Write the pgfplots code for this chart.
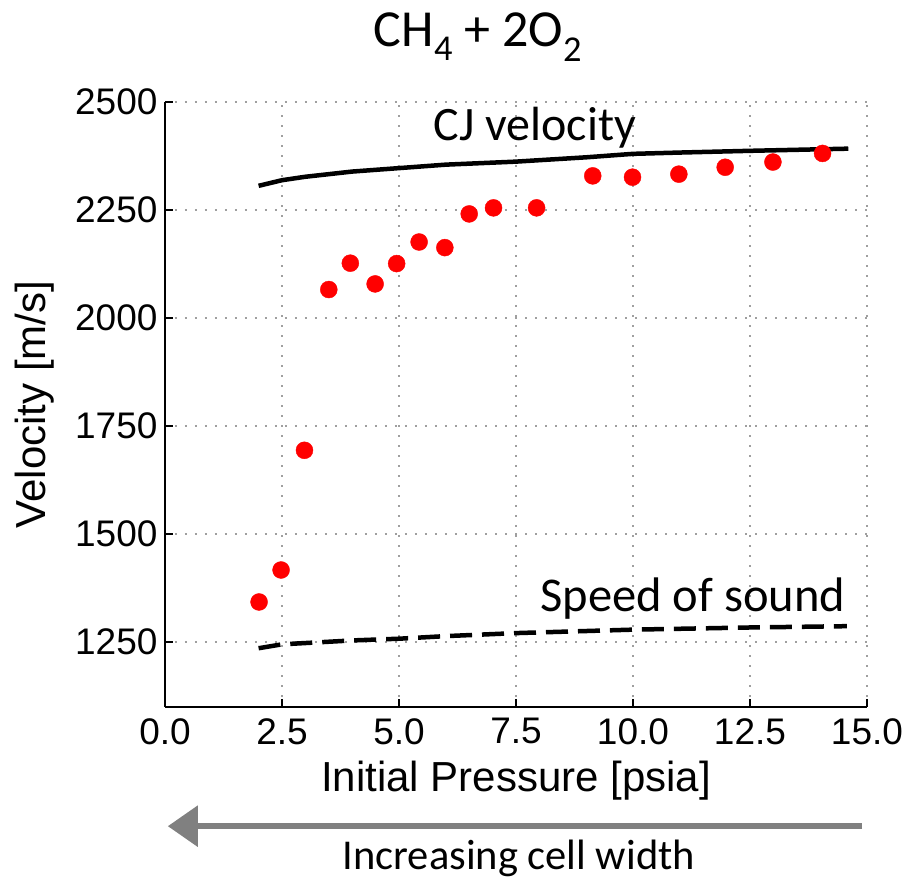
\documentclass[border=0pt]{standalone}
\usepackage{fontspec}
\setmainfont{Liberation Sans}
\newfontfamily\calibri{Carlito}
\usepackage{pgfplots}
\pgfplotsset{compat=1.18}
\usetikzlibrary{arrows.meta}
\begin{document}
\begin{tikzpicture}[x=1pt,y=1pt]
\useasboundingbox (-165,-175) rectangle (738,707);
\begin{axis}[
  at={(0,0)}, anchor=south west,
  scale only axis, width=702pt, height=605pt,
  xmin=0, xmax=15, ymin=1100, ymax=2500,
  axis x line=bottom, axis y line=left,
  axis line style={line width=1.6pt, black, -},
  xtick={0,2.5,...,15}, ytick={1250,1500,...,2500},
  xticklabels={0.0,2.5,5.0,7.5,10.0,12.5,15.0},
  yticklabels={1250,1500,1750,2000,2250,2500},
  tick align=inside, major tick length=8pt,
  tick style={line width=1.4pt, black},
  grid=major,
  major grid style={gray!75, line width=1.6pt, dash pattern=on 1.6pt off 8.4pt},
  /pgf/number format/assume math mode=true,
  tick label style={font=\fontsize{37}{40}\selectfont},
  xticklabel style={yshift=-8pt},
  yticklabel style={xshift=-4pt},
  xlabel={Initial Pressure [psia]},
  ylabel={Velocity [m/s]},
  label style={font=\fontsize{42}{46}\selectfont},
  xlabel style={at={(axis description cs:0.50,-0.121)}, anchor=center},
  ylabel style={at={(axis description cs:-0.185,0.5)}, anchor=center},
  title={\calibri CH\textsubscript{4} + 2O\textsubscript{2}},
  title style={font=\fontsize{52}{56}\selectfont, at={(axis description cs:0.446,1.098)}, anchor=center},
  clip=false,
]
\addplot[black, line width=4.5pt] coordinates {
(2,2306) (2.5,2319) (3,2327) (4,2339) (5,2347) (6,2355) (7.5,2362)
(9,2372) (10,2380) (11,2383) (12.5,2387) (14.6,2392)};
\addplot[black, line width=4.5pt, dash pattern=on 22pt off 10pt] coordinates {
(2,1236) (2.5,1245) (3,1248) (4,1254) (5,1258) (6,1264) (7.5,1271)
(10,1279) (12.5,1284) (14.57,1287)};
\addplot[only marks, mark=*, mark size=8.5pt, color=red, mark options={fill=red, draw=red}] coordinates {
(2.01,1343) (2.48,1417) (2.98,1694) (3.50,2066) (3.96,2127) (4.49,2079)
(4.95,2126) (5.43,2176) (5.98,2163) (6.50,2241) (7.02,2255) (7.94,2255)
(9.14,2329) (9.99,2326) (10.98,2333) (11.97,2349) (12.99,2361) (14.05,2381)};
\node[font=\calibri\fontsize{48}{52}\selectfont, anchor=center] at (axis cs:7.9,2440) {CJ velocity};
\node[font=\calibri\fontsize{48.5}{52}\selectfont, anchor=center] at (axis cs:11.28,1350) {Speed of sound};
\draw[gray, line width=6pt, -{Triangle[width=40pt,length=30pt]}] (axis description cs:0.993,-0.197) -- (axis description cs:0.004,-0.197);
\node[font=\calibri\fontsize{42.5}{46}\selectfont, anchor=center] at (axis description cs:0.504,-0.250) {Increasing cell width};
\end{axis}
\end{tikzpicture}
\end{document}
